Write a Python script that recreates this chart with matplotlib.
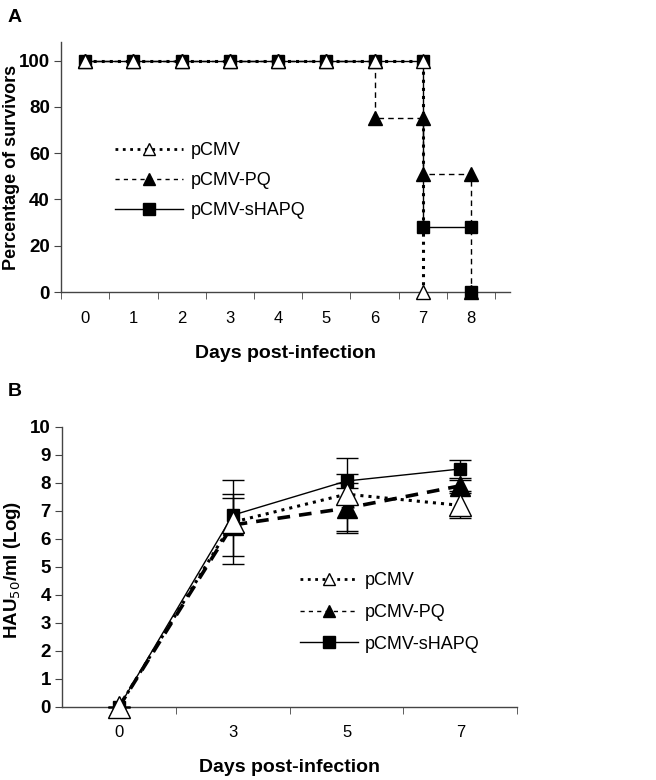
#!/usr/bin/env python3
"""Survival curves (A) and lung virus titres (B) for the three DNA constructs."""

import matplotlib

matplotlib.use("Agg")
import matplotlib.pyplot as plt
from matplotlib.ticker import FixedLocator

plt.rcParams["font.family"] = ["Liberation Sans", "DejaVu Sans"]

SERIES = ["pCMV", "pCMV-PQ", "pCMV-sHAPQ"]

# panel A: step survival curves (day, % survivors)
surv_days_pcmv = [0, 1, 2, 3, 4, 5, 6, 7, 7]
surv_pcmv = [100, 100, 100, 100, 100, 100, 100, 100, 0]
surv_days_pq = [0, 1, 2, 3, 4, 5, 6, 6, 7, 7, 8, 8]
surv_pq = [100, 100, 100, 100, 100, 100, 100, 75, 75, 51, 51, 0]
surv_days_shapq = [0, 1, 2, 3, 4, 5, 6, 7, 7, 8, 8]
surv_shapq = [100, 100, 100, 100, 100, 100, 100, 100, 28, 28, 0]
days_a = [0, 1, 2, 3, 4, 5, 6, 7, 8]

# panel B: HAU50/ml (log) with error bars
days_b = ["0", "3", "5", "7"]
titre_pcmv = [0.0, 6.6, 7.6, 7.2]
err_pcmv = [0.0, 1.5, 1.3, 0.45]
titre_pq = [0.0, 6.5, 7.1, 7.9]
err_pq = [0.0, 1.1, 0.9, 0.2]
titre_shapq = [0.0, 6.85, 8.07, 8.5]
err_shapq = [0.0, 0.6, 0.25, 0.33]


def style_axis(ax):
    for side in ("top", "right"):
        ax.spines[side].set_visible(False)
    for side in ("left", "bottom"):
        ax.spines[side].set_color("#444444")
        ax.spines[side].set_linewidth(1.0)
    ax.tick_params(axis="y", which="major", length=5, color="#444444", labelsize=13.5, pad=3)
    ax.tick_params(axis="x", which="major", length=0, labelsize=12, pad=14)
    ax.tick_params(axis="x", which="minor", length=5, color="#444444")
    for lab in ax.get_yticklabels():
        lab.set_fontweight("bold")


def legend_handles(ax):
    h1, = ax.plot([], [], ":", color="black", lw=2.0, marker="^", mfc="white", mec="black", ms=9)
    h2, = ax.plot([], [], "--", color="black", lw=1.0, dashes=(3, 3), marker="^", ms=9)
    h3, = ax.plot([], [], "-", color="black", lw=1.0, marker="s", ms=8)
    return [h1, h2, h3]


fig = plt.figure(figsize=(6.56, 7.8), dpi=100)

# ---- panel A
ax = fig.add_axes([0.093, 0.6256, 0.684, 0.3205])
ax.plot(surv_days_shapq[:-1], surv_shapq[:-1], "-", color="black", lw=1.0, zorder=2)
ax.plot(surv_days_shapq, surv_shapq, "s", color="black", ms=8, ls="none", zorder=4, clip_on=False)
ax.plot(surv_days_pq, surv_pq, "--", color="black", lw=1.0, dashes=(4, 3),
        marker="^", mfc="black", mec="black", ms=10, zorder=3, clip_on=False)
ax.plot(surv_days_pcmv, surv_pcmv, ":", color="black", lw=2.2,
        marker="^", mfc="white", mec="black", ms=10, mew=1.0, zorder=5, clip_on=False)
ax.set_xlim(-0.5, 8.8)
ax.set_ylim(0, 108)
ax.set_yticks([0, 20, 40, 60, 80, 100])
ax.set_xticks(days_a)
ax.xaxis.set_minor_locator(FixedLocator([d + 0.5 for d in [-1] + days_a]))
style_axis(ax)
ax.set_xlabel("Days post-infection", fontsize=14, fontweight="bold", labelpad=13)
ax.set_ylabel("Percentage of survivors", fontsize=13, fontweight="bold")
ax.yaxis.set_label_coords(-0.091, 0.5)

ax.legend(legend_handles(ax), SERIES, loc="upper left", bbox_to_anchor=(0.12, 0.60),
          frameon=False, fontsize=13, handlelength=3.8, handletextpad=0.4,
          labelspacing=0.72, borderaxespad=0, borderpad=0)

fig.text(0.012, 0.988, "A", fontsize=14, fontweight="bold", va="top")

# ---- panel B
bx = fig.add_axes([0.0945, 0.0936, 0.694, 0.359])
xb = list(range(len(days_b)))
bx.errorbar(xb, titre_shapq, yerr=err_shapq, color="black", lw=1.0, marker="s", ms=9,
            capsize=8, elinewidth=1.0, capthick=1.0, zorder=3, clip_on=False)
bx.errorbar(xb, titre_pq, yerr=err_pq, color="black", lw=2.6, ls=(0, (3.5, 2.5)), marker="^",
            ms=14, capsize=8, elinewidth=1.0, capthick=1.0, zorder=4, clip_on=False)
bx.errorbar(xb, titre_pcmv, yerr=err_pcmv, color="black", lw=2.2, ls=":", marker="^",
            mfc="white", mec="black", ms=16, mew=1.0, capsize=8, elinewidth=1.0,
            capthick=1.0, zorder=5, clip_on=False)
bx.set_xlim(-0.5, 3.5)
bx.set_ylim(0, 10)
bx.set_yticks(range(0, 11))
bx.set_xticks(xb)
bx.set_xticklabels(days_b)
bx.xaxis.set_minor_locator(FixedLocator([0.5, 1.5, 2.5, 3.5]))
style_axis(bx)
bx.tick_params(axis="x", which="major", pad=13)
bx.set_xlabel("Days post-infection", fontsize=14, fontweight="bold", labelpad=14)
bx.set_ylabel("HAU$_{50}$/ml (Log)", fontsize=13.5, fontweight="bold")
bx.yaxis.set_label_coords(-0.086, 0.49)

bx.legend(legend_handles(bx), SERIES, loc="upper left", bbox_to_anchor=(0.523, 0.482),
          frameon=False, fontsize=13, handlelength=3.2, handletextpad=0.4,
          labelspacing=0.82, borderaxespad=0, borderpad=0)

fig.text(0.012, 0.509, "B", fontsize=14, fontweight="bold", va="top")

fig.savefig("out.png", dpi=100)
